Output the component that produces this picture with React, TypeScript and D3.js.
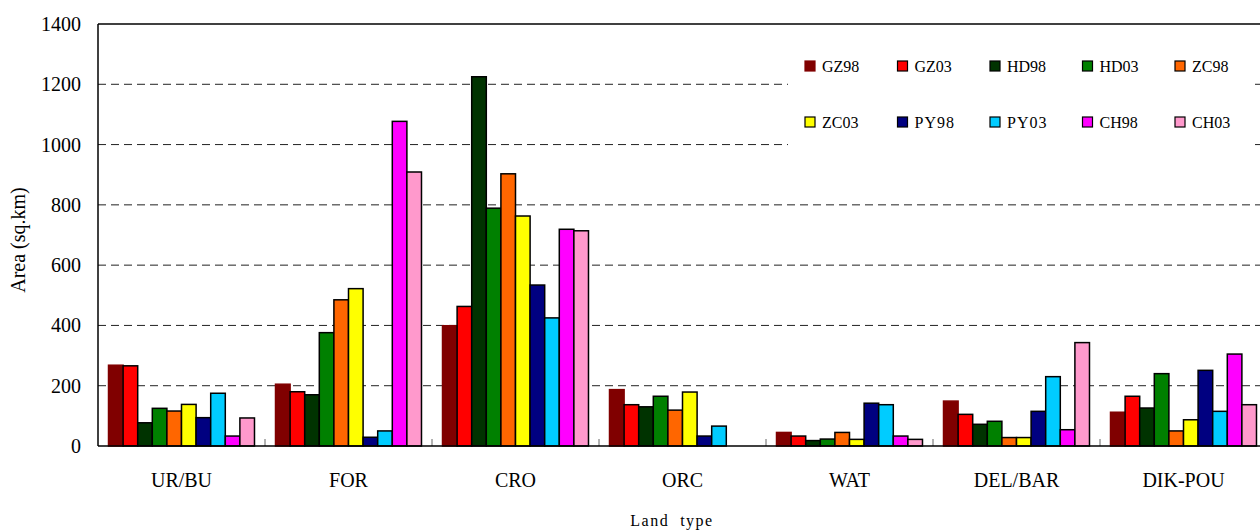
import React from "react";
import * as d3 from "d3";

const categories = ["UR/BU", "FOR", "CRO", "ORC", "WAT", "DEL/BAR", "DIK-POU"];
const seriesNames = ["GZ98", "GZ03", "HD98", "HD03", "ZC98", "ZC03", "PY98", "PY03", "CH98", "CH03"];
const seriesColors = ["#800000", "#FF0000", "#003300", "#008000", "#FF6600", "#FFFF00", "#000080", "#00CCFF", "#FF00FF", "#FF99CC"];

const GZ98 = [268, 205, 399, 187, 45, 149, 112];
const GZ03 = [266, 180, 463, 137, 33, 105, 165];
const HD98 = [77, 170, 1225, 130, 18, 72, 126];
const HD03 = [125, 376, 789, 165, 23, 82, 240];
const ZC98 = [116, 485, 903, 119, 45, 28, 50];
const ZC03 = [138, 522, 763, 179, 22, 28, 87];
const PY98 = [94, 29, 534, 33, 142, 115, 251];
const PY03 = [175, 50, 425, 66, 137, 230, 115];
const CH98 = [33, 1077, 719, 0, 33, 54, 305];
const CH03 = [93, 909, 714, 0, 22, 343, 137];
const seriesValues = [GZ98, GZ03, HD98, HD03, ZC98, ZC03, PY98, PY03, CH98, CH03];

const yTicks = [0, 200, 400, 600, 800, 1000, 1200, 1400];

const W = 1260;
const H = 532;
const left = 98;
const top = 24;
const bottom = 446;
const groupW = 167;

export default function App() {
  const x = d3.scaleBand<string>().domain(categories).range([left, left + groupW * categories.length]).padding(0);
  const xi = d3.scaleBand<string>().domain(seriesNames).range([0, x.bandwidth()]).paddingInner(0).paddingOuter(0.72);
  const y = d3.scaleLinear().domain([0, 1400]).range([bottom, top]);
  const tstyle = { fontFamily: "Liberation Serif, DejaVu Serif, serif" };

  return (
    <svg width={W} height={H} style={{ position: "absolute", left: 0, top: 0, background: "#fff", fontFamily: "Liberation Serif, DejaVu Serif, serif" }}>
      <rect x={0} y={0} width={W} height={H} fill="#fff" />
      {yTicks.filter((t) => t > 0 && t < 1400).map((t) => (
        <line key={t} x1={left} x2={W} y1={y(t)} y2={y(t)} stroke="#222" strokeWidth={1} strokeDasharray="8,5" />
      ))}
      {categories.slice(1).map((c) => (
        <line key={c} x1={x(c)!} x2={x(c)!} y1={bottom} y2={bottom - 7} stroke="#666" strokeWidth={1} />
      ))}
      {categories.map((c, ci) =>
        seriesNames.map((s, si) => {
          const v = seriesValues[si][ci];
          if (v <= 0) return null;
          const bx = x(c)! + xi(s)!;
          return (
            <rect
              key={c + s}
              x={bx}
              y={y(v)}
              width={xi.bandwidth()}
              height={bottom - y(v)}
              fill={seriesColors[si]}
              stroke={si === 0 ? seriesColors[0] : "#000"}
              strokeWidth={1.5}
            />
          );
        })
      )}
      <line x1={left} x2={W} y1={top} y2={top} stroke="#000" strokeWidth={1.5} />
      <line x1={left} x2={left} y1={top} y2={bottom} stroke="#000" strokeWidth={1.5} />
      <line x1={left} x2={W} y1={bottom} y2={bottom} stroke="#000" strokeWidth={1.5} />
      {yTicks.map((t) => (
        <text key={t} x={81} y={y(t)} dy="0.35em" textAnchor="end" fontSize={20} fill="#000" style={tstyle}>
          {t}
        </text>
      ))}
      {categories.map((c) => (
        <text key={c} x={x(c)! + x.bandwidth() / 2} y={487} textAnchor="middle" fontSize={20} fill="#000" style={tstyle}>
          {c}
        </text>
      ))}
      <text x={672} y={526} textAnchor="middle" fontSize={16} fill="#000" style={{ ...tstyle, letterSpacing: "1.5px", whiteSpace: "pre" }}>
        {"Land  type"}
      </text>
      <text transform={`translate(25,${(top + bottom) / 2 + 5}) rotate(-90)`} textAnchor="middle" fontSize={20} fill="#000" style={tstyle}>
        Area (sq.km)
      </text>
      <rect x={788} y={42} width={465} height={107} fill="#fff" />
      {seriesNames.map((s, i) => {
        const col = i % 5;
        const row = Math.floor(i / 5);
        const lx = 805 + col * 92.5;
        const ly = 66 + row * 56;
        return (
          <g key={s}>
            <rect x={lx} y={ly - 5} width={10} height={10} fill={seriesColors[i]} stroke={i === 0 ? seriesColors[0] : "#000"} strokeWidth={1.2} />
            <text x={lx + 17} y={ly} dy="0.35em" fontSize={16} fill="#000" style={{ ...tstyle, letterSpacing: s.startsWith("PY") ? "1px" : "0px" }}>
              {s}
            </text>
          </g>
        );
      })}
    </svg>
  );
}
